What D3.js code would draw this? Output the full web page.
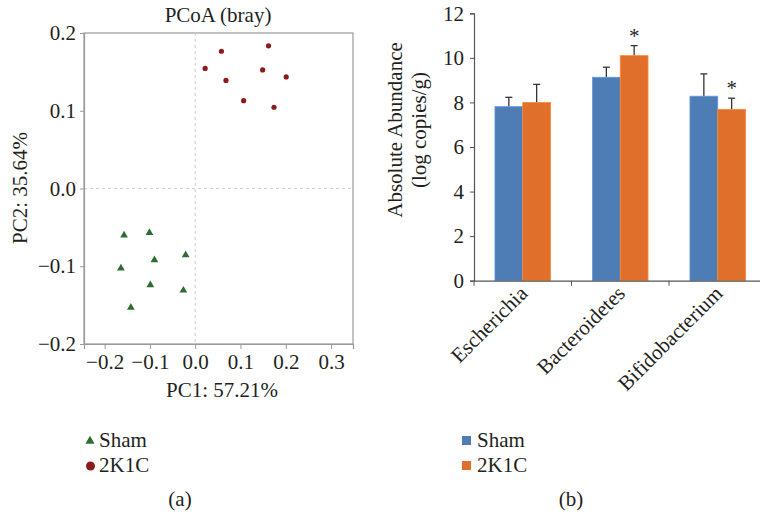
<!DOCTYPE html>
<html>
<head>
<meta charset="utf-8">
<script src="https://cdn.jsdelivr.net/npm/d3@7"></script>
<style>
  body { margin: 0; background: #fff; }
  svg text { font-family: "Liberation Serif", "DejaVu Serif", serif; fill: #231f20; }
</style>
</head>
<body>
<div id="container"></div>
<script>
// PCoA coordinates
const shamPC1 = [-0.157, -0.101, -0.021, -0.090, -0.164, -0.099, -0.026, -0.142];
const shamPC2 = [-0.060, -0.057, -0.0855, -0.092, -0.1025, -0.124, -0.131, -0.153];
const k1cPC1 = [0.022, 0.058, 0.068, 0.107, 0.149, 0.162, 0.174, 0.201];
const k1cPC2 = [0.1545, 0.1765, 0.139, 0.113, 0.1525, 0.1835, 0.1045, 0.1435];
const pcTicks = [-0.2, -0.1, 0.0, 0.1, 0.2, 0.3];
const pc2Ticks = [-0.2, -0.1, 0.0, 0.1, 0.2];

// panel (b) absolute abundance
const genera = ['Escherichia', 'Bacteroidetes', 'Bifidobacterium'];
const groups = ['Sham', '2K1C'];
const shamMean = [7.81, 9.13, 8.28];
const shamErr = [0.42, 0.45, 1.0];
const k1cMean = [8.0, 10.1, 7.69];
const k1cErr = [0.81, 0.45, 0.5];
const starred = [false, true, true];
const abundTicks = [0, 2, 4, 6, 8, 10, 12];

const colors = { Sham: '#4e7cb5', '2K1C': '#e06f2b' };
const green = '#2f6b32';
const darkRed = '#8c1c1c';
const fs = 21;

const svg = d3.select('#container')
    .append('svg')
    .attr('width', 760)
    .attr('height', 515);

// ---------- panel (a) ----------
const xA = d3.scaleLinear().domain([-0.2455, 0.3485]).range([84, 353]);
const yA = d3.scaleLinear().domain([-0.2, 0.2]).range([344, 33]);
const fmt = d3.format('.1f');

const gA = svg.append('g');

gA.append('rect')
    .attr('x', xA.range()[0]).attr('y', yA.range()[1])
    .attr('width', xA.range()[1] - xA.range()[0])
    .attr('height', yA.range()[0] - yA.range()[1])
    .attr('fill', 'none')
    .attr('stroke', '#9a9a9a')
    .attr('stroke-width', 1.2);

gA.append('line')
    .attr('x1', xA(0)).attr('x2', xA(0))
    .attr('y1', yA.range()[1]).attr('y2', yA.range()[0])
    .attr('stroke', '#cfcfcf').attr('stroke-dasharray', '3,3');
gA.append('line')
    .attr('x1', xA.range()[0]).attr('x2', xA.range()[1])
    .attr('y1', yA(0)).attr('y2', yA(0))
    .attr('stroke', '#cfcfcf').attr('stroke-dasharray', '3,3');

const axA = gA.append('g')
    .attr('transform', 'translate(0,' + yA.range()[0] + ')')
    .call(d3.axisBottom(xA).tickValues(pcTicks).tickFormat(fmt).tickSize(5).tickPadding(5));
const ayA = gA.append('g')
    .attr('transform', 'translate(' + xA.range()[0] + ',0)')
    .call(d3.axisLeft(yA).tickValues(pc2Ticks).tickFormat(fmt).tickSize(4).tickPadding(4));
[axA, ayA].forEach(function (a) {
    a.select('.domain').attr('stroke', '#9a9a9a').attr('stroke-width', 1.2);
    a.selectAll('.tick line').attr('stroke', '#9a9a9a');
    a.selectAll('.tick text').attr('font-size', fs).attr('fill', '#231f20');
});

gA.append('text')
    .attr('x', 218).attr('y', 22)
    .attr('text-anchor', 'middle')
    .attr('font-size', fs)
    .text('PCoA (bray)');

gA.append('text')
    .attr('x', 222).attr('y', 397)
    .attr('text-anchor', 'middle')
    .attr('font-size', fs)
    .text('PC1: 57.21%');

gA.append('text')
    .attr('transform', 'translate(27,188) rotate(-90)')
    .attr('text-anchor', 'middle')
    .attr('font-size', fs)
    .text('PC2: 35.64%');

const tri = d3.symbol().type(d3.symbolTriangle).size(26);

gA.selectAll('.sham')
    .data(shamPC1)
    .enter()
    .append('path')
    .attr('class', 'sham')
    .attr('d', tri)
    .attr('transform', function (d, i) { return 'translate(' + xA(d) + ',' + yA(shamPC2[i]) + ')'; })
    .attr('fill', green);

gA.selectAll('.k1c')
    .data(k1cPC1)
    .enter()
    .append('circle')
    .attr('class', 'k1c')
    .attr('cx', function (d) { return xA(d); })
    .attr('cy', function (d, i) { return yA(k1cPC2[i]); })
    .attr('r', 2.6)
    .attr('fill', darkRed);

// legend (a)
gA.append('path')
    .attr('d', d3.symbol().type(d3.symbolTriangle).size(36))
    .attr('transform', 'translate(90,441)')
    .attr('fill', green);
gA.append('text').attr('x', 99).attr('y', 447).attr('font-size', fs).text('Sham');
gA.append('circle').attr('cx', 90.5).attr('cy', 466).attr('r', 4.5).attr('fill', darkRed);
gA.append('text').attr('x', 99).attr('y', 472).attr('font-size', fs).text('2K1C');
gA.append('text').attr('x', 180).attr('y', 506).attr('text-anchor', 'middle').attr('font-size', fs).text('(a)');

// ---------- panel (b) ----------
const xB = d3.scaleBand().domain(genera).range([474, 766.5]);
const xSub = d3.scaleBand().domain(groups)
    .range([xB.bandwidth() * 0.215, xB.bandwidth() * 0.785]);
const yB = d3.scaleLinear().domain([0, 12]).range([280.7, 13.3]);

const gB = svg.append('g');

const rows = genera.map(function (g, i) {
    return [
        { genus: g, group: 'Sham', mean: shamMean[i], err: shamErr[i], star: false },
        { genus: g, group: '2K1C', mean: k1cMean[i], err: k1cErr[i], star: starred[i] }
    ];
});

const cat = gB.selectAll('.cat')
    .data(rows)
    .enter()
    .append('g')
    .attr('class', 'cat')
    .attr('transform', function (d) { return 'translate(' + xB(d[0].genus) + ',0)'; });

const bar = cat.selectAll('.bar')
    .data(function (d) { return d; })
    .enter()
    .append('g');

// error bars (upper only)
bar.append('line')
    .attr('x1', function (d) { return xSub(d.group) + xSub.bandwidth() / 2; })
    .attr('x2', function (d) { return xSub(d.group) + xSub.bandwidth() / 2; })
    .attr('y1', function (d) { return yB(d.mean); })
    .attr('y2', function (d) { return yB(d.mean + d.err); })
    .attr('stroke', '#333').attr('stroke-width', 1.3);
bar.append('line')
    .attr('x1', function (d) { return xSub(d.group) + xSub.bandwidth() / 2 - 3.5; })
    .attr('x2', function (d) { return xSub(d.group) + xSub.bandwidth() / 2 + 3.5; })
    .attr('y1', function (d) { return yB(d.mean + d.err); })
    .attr('y2', function (d) { return yB(d.mean + d.err); })
    .attr('stroke', '#333').attr('stroke-width', 1.3);

bar.append('rect')
    .attr('x', function (d) { return xSub(d.group); })
    .attr('y', function (d) { return yB(d.mean); })
    .attr('width', xSub.bandwidth())
    .attr('height', function (d) { return yB(0) - yB(d.mean); })
    .attr('fill', function (d) { return colors[d.group]; })
    .attr('stroke', function (d) { return d3.color(colors[d.group]).brighter(0.6); })
    .attr('stroke-width', 0.8);

bar.filter(function (d) { return d.star; })
    .append('text')
    .attr('x', function (d) { return xSub(d.group) + xSub.bandwidth() / 2; })
    .attr('y', function (d) { return yB(d.mean + d.err) - 3; })
    .attr('text-anchor', 'middle')
    .attr('font-size', fs)
    .text('*');

const ayB = gB.append('g')
    .attr('transform', 'translate(474,0)')
    .call(d3.axisLeft(yB).tickValues(abundTicks).tickSize(4).tickPadding(6));
const axB = gB.append('g')
    .attr('transform', 'translate(0,' + yB(0) + ')')
    .call(d3.axisBottom(xB).tickSize(0).tickFormat(''));
axB.selectAll('.tick').remove();
axB.selectAll('.sep')
    .data(genera)
    .enter()
    .append('line')
    .attr('x1', function (d) { return xB(d); })
    .attr('x2', function (d) { return xB(d); })
    .attr('y1', 0).attr('y2', 5)
    .attr('stroke', '#555');
[axB, ayB].forEach(function (a) {
    a.select('.domain').attr('stroke', '#555').attr('stroke-width', 1.2);
    a.selectAll('.tick line').attr('stroke', '#555');
    a.selectAll('.tick text').attr('font-size', fs).attr('fill', '#231f20');
});

gB.selectAll('.glabel')
    .data(genera)
    .enter()
    .append('text')
    .attr('class', 'glabel')
    .attr('transform', function (d) {
        return 'translate(' + (xB(d) + xB.bandwidth() / 2 + 6) + ',' + (yB(0) + 14) + ') rotate(-45)';
    })
    .attr('text-anchor', 'end')
    .attr('font-size', fs)
    .text(function (d) { return d; });

gB.append('text')
    .attr('transform', 'translate(402,130) rotate(-90)')
    .attr('text-anchor', 'middle')
    .attr('font-size', fs)
    .text('Absolute Abundance');
gB.append('text')
    .attr('transform', 'translate(426,130) rotate(-90)')
    .attr('text-anchor', 'middle')
    .attr('font-size', fs)
    .text('(log copies/g)');

// legend (b)
const legB = gB.selectAll('.legb')
    .data(groups)
    .enter()
    .append('g')
    .attr('transform', function (d, i) { return 'translate(462,' + (436 + i * 25) + ')'; });
legB.append('rect')
    .attr('width', 9).attr('height', 9)
    .attr('fill', function (d) { return colors[d]; });
legB.append('text')
    .attr('x', 15).attr('y', 11)
    .attr('font-size', fs)
    .text(function (d) { return d; });
gB.append('text').attr('x', 571).attr('y', 506).attr('text-anchor', 'middle').attr('font-size', fs).text('(b)');
</script>
</body>
</html>
